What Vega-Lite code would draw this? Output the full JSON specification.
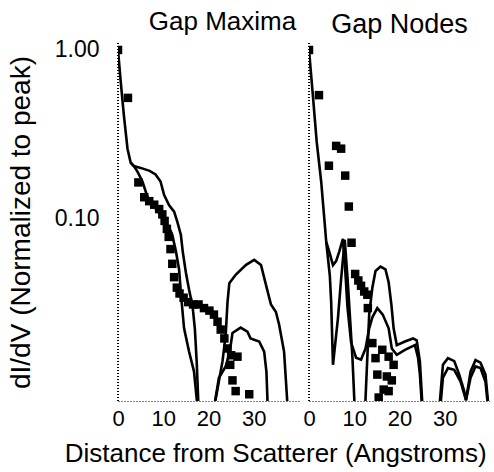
{
  "$schema": "https://vega.github.io/schema/vega-lite/v6.json",
  "padding": {"left": 7, "top": 8, "right": 0, "bottom": 3},
  "config": {"view": {"stroke": null}, "font": "Liberation Sans", "axis": {"labelColor": "black", "titleColor": "black"}},
  "title": {"text": "Distance from Scatterer (Angstroms)", "orient": "bottom", "anchor": "middle", "fontSize": 26, "fontWeight": "normal", "color": "black", "dx": 27, "offset": 12},
  "spacing": 3,
  "datasets": {
    "d": [
      {"p": "M", "s": "pts", "x": 0, "v": 1.0},
      {"p": "M", "s": "pts", "x": 2.2, "v": 0.52},
      {"p": "M", "s": "pts", "x": 4.5, "v": 0.164},
      {"p": "M", "s": "pts", "x": 5.8, "v": 0.134},
      {"p": "M", "s": "pts", "x": 6.9, "v": 0.127},
      {"p": "M", "s": "pts", "x": 8.0, "v": 0.121},
      {"p": "M", "s": "pts", "x": 9.1, "v": 0.114},
      {"p": "M", "s": "pts", "x": 9.8, "v": 0.106},
      {"p": "M", "s": "pts", "x": 10.3, "v": 0.097},
      {"p": "M", "s": "pts", "x": 10.8, "v": 0.087},
      {"p": "M", "s": "pts", "x": 11.2, "v": 0.078},
      {"p": "M", "s": "pts", "x": 11.6, "v": 0.066},
      {"p": "M", "s": "pts", "x": 12.0, "v": 0.054},
      {"p": "M", "s": "pts", "x": 12.4, "v": 0.045},
      {"p": "M", "s": "pts", "x": 13.0, "v": 0.039},
      {"p": "M", "s": "pts", "x": 13.6, "v": 0.036},
      {"p": "M", "s": "pts", "x": 14.5, "v": 0.034},
      {"p": "M", "s": "pts", "x": 15.5, "v": 0.032},
      {"p": "M", "s": "pts", "x": 16.6, "v": 0.031},
      {"p": "M", "s": "pts", "x": 17.8, "v": 0.031},
      {"p": "M", "s": "pts", "x": 19.0, "v": 0.0295},
      {"p": "M", "s": "pts", "x": 20.2, "v": 0.0285},
      {"p": "M", "s": "pts", "x": 21.2, "v": 0.027},
      {"p": "M", "s": "pts", "x": 22.0, "v": 0.0245},
      {"p": "M", "s": "pts", "x": 22.7, "v": 0.022},
      {"p": "M", "s": "pts", "x": 23.5, "v": 0.0195},
      {"p": "M", "s": "pts", "x": 24.2, "v": 0.017},
      {"p": "M", "s": "pts", "x": 25.0, "v": 0.0155},
      {"p": "M", "s": "pts", "x": 26.4, "v": 0.0152},
      {"p": "M", "s": "pts", "x": 24.8, "v": 0.0136},
      {"p": "M", "s": "pts", "x": 25.3, "v": 0.011},
      {"p": "M", "s": "pts", "x": 26.0, "v": 0.0095},
      {"p": "M", "s": "pts", "x": 29.0, "v": 0.0091},

      {"p": "M", "s": "m1", "x": 0, "v": 1.0},
      {"p": "M", "s": "m1", "x": 0.6, "v": 0.65},
      {"p": "M", "s": "m1", "x": 1.3, "v": 0.41},
      {"p": "M", "s": "m1", "x": 2.1, "v": 0.26},
      {"p": "M", "s": "m1", "x": 2.8, "v": 0.215},
      {"p": "M", "s": "m1", "x": 3.5, "v": 0.205},
      {"p": "M", "s": "m1", "x": 5.0, "v": 0.2},
      {"p": "M", "s": "m1", "x": 7.0, "v": 0.192},
      {"p": "M", "s": "m1", "x": 8.3, "v": 0.183},
      {"p": "M", "s": "m1", "x": 9.4, "v": 0.166},
      {"p": "M", "s": "m1", "x": 10.2, "v": 0.138},
      {"p": "M", "s": "m1", "x": 11.3, "v": 0.12},
      {"p": "M", "s": "m1", "x": 12.4, "v": 0.11},
      {"p": "M", "s": "m1", "x": 13.1, "v": 0.096},
      {"p": "M", "s": "m1", "x": 13.9, "v": 0.08},
      {"p": "M", "s": "m1", "x": 14.3, "v": 0.064},
      {"p": "M", "s": "m1", "x": 15.0, "v": 0.048},
      {"p": "M", "s": "m1", "x": 15.7, "v": 0.038},
      {"p": "M", "s": "m1", "x": 16.5, "v": 0.03},
      {"p": "M", "s": "m1", "x": 17.0, "v": 0.022},
      {"p": "M", "s": "m1", "x": 17.4, "v": 0.014},
      {"p": "M", "s": "m1", "x": 17.8, "v": 0.0075},

      {"p": "M", "s": "m2", "x": 2.8, "v": 0.215},
      {"p": "M", "s": "m2", "x": 3.5, "v": 0.205},
      {"p": "M", "s": "m2", "x": 4.3, "v": 0.19},
      {"p": "M", "s": "m2", "x": 5.4, "v": 0.166},
      {"p": "M", "s": "m2", "x": 6.5, "v": 0.135},
      {"p": "M", "s": "m2", "x": 8.3, "v": 0.115},
      {"p": "M", "s": "m2", "x": 10.0, "v": 0.1},
      {"p": "M", "s": "m2", "x": 11.2, "v": 0.09},
      {"p": "M", "s": "m2", "x": 12.0, "v": 0.08},
      {"p": "M", "s": "m2", "x": 12.8, "v": 0.064},
      {"p": "M", "s": "m2", "x": 13.5, "v": 0.05},
      {"p": "M", "s": "m2", "x": 13.9, "v": 0.036},
      {"p": "M", "s": "m2", "x": 14.6, "v": 0.0224},
      {"p": "M", "s": "m2", "x": 15.7, "v": 0.0163},
      {"p": "M", "s": "m2", "x": 16.8, "v": 0.0124},
      {"p": "M", "s": "m2", "x": 17.6, "v": 0.0075},

      {"p": "M", "s": "m3", "x": 21.2, "v": 0.0075},
      {"p": "M", "s": "m3", "x": 22.2, "v": 0.0105},
      {"p": "M", "s": "m3", "x": 23.1, "v": 0.0143},
      {"p": "M", "s": "m3", "x": 23.8, "v": 0.0205},
      {"p": "M", "s": "m3", "x": 24.2, "v": 0.032},
      {"p": "M", "s": "m3", "x": 24.6, "v": 0.0414},
      {"p": "M", "s": "m3", "x": 26.0, "v": 0.0465},
      {"p": "M", "s": "m3", "x": 28.3, "v": 0.0532},
      {"p": "M", "s": "m3", "x": 30.1, "v": 0.057},
      {"p": "M", "s": "m3", "x": 31.6, "v": 0.0532},
      {"p": "M", "s": "m3", "x": 32.7, "v": 0.0405},
      {"p": "M", "s": "m3", "x": 33.8, "v": 0.031},
      {"p": "M", "s": "m3", "x": 34.9, "v": 0.028},
      {"p": "M", "s": "m3", "x": 35.6, "v": 0.0236},
      {"p": "M", "s": "m3", "x": 36.7, "v": 0.0163},
      {"p": "M", "s": "m3", "x": 37.5, "v": 0.0075},

      {"p": "M", "s": "m4", "x": 21.2, "v": 0.0075},
      {"p": "M", "s": "m4", "x": 22.3, "v": 0.0114},
      {"p": "M", "s": "m4", "x": 23.8, "v": 0.0133},
      {"p": "M", "s": "m4", "x": 24.7, "v": 0.0163},
      {"p": "M", "s": "m4", "x": 25.3, "v": 0.021},
      {"p": "M", "s": "m4", "x": 27.1, "v": 0.0226},
      {"p": "M", "s": "m4", "x": 28.6, "v": 0.0214},
      {"p": "M", "s": "m4", "x": 29.3, "v": 0.0195},
      {"p": "M", "s": "m4", "x": 31.2, "v": 0.0187},
      {"p": "M", "s": "m4", "x": 32.3, "v": 0.0163},
      {"p": "M", "s": "m4", "x": 32.8, "v": 0.0124},
      {"p": "M", "s": "m4", "x": 33.1, "v": 0.0075},

      {"p": "N", "s": "pts", "x": 0, "v": 1.0},
      {"p": "N", "s": "pts", "x": 2.2, "v": 0.54},
      {"p": "N", "s": "pts", "x": 4.4, "v": 0.206},
      {"p": "N", "s": "pts", "x": 6.0, "v": 0.27},
      {"p": "N", "s": "pts", "x": 7.1, "v": 0.26},
      {"p": "N", "s": "pts", "x": 8.0, "v": 0.18},
      {"p": "N", "s": "pts", "x": 8.8, "v": 0.118},
      {"p": "N", "s": "pts", "x": 9.4, "v": 0.072},
      {"p": "N", "s": "pts", "x": 10.2, "v": 0.047},
      {"p": "N", "s": "pts", "x": 10.9, "v": 0.043},
      {"p": "N", "s": "pts", "x": 11.5, "v": 0.04},
      {"p": "N", "s": "pts", "x": 12.2, "v": 0.037},
      {"p": "N", "s": "pts", "x": 12.9, "v": 0.0354},
      {"p": "N", "s": "pts", "x": 13.0, "v": 0.0295},
      {"p": "N", "s": "pts", "x": 14.0, "v": 0.0183},
      {"p": "N", "s": "pts", "x": 14.7, "v": 0.0149},
      {"p": "N", "s": "pts", "x": 16.2, "v": 0.0167},
      {"p": "N", "s": "pts", "x": 17.6, "v": 0.0152},
      {"p": "N", "s": "pts", "x": 18.7, "v": 0.0136},
      {"p": "N", "s": "pts", "x": 15.1, "v": 0.0119},
      {"p": "N", "s": "pts", "x": 17.2, "v": 0.0116},
      {"p": "N", "s": "pts", "x": 18.3, "v": 0.011},
      {"p": "N", "s": "pts", "x": 16.5, "v": 0.0097},
      {"p": "N", "s": "pts", "x": 17.6, "v": 0.0095},
      {"p": "N", "s": "pts", "x": 15.4, "v": 0.0087},

      {"p": "N", "s": "n1", "x": 0, "v": 1.0},
      {"p": "N", "s": "n1", "x": 0.9, "v": 0.52},
      {"p": "N", "s": "n1", "x": 1.7, "v": 0.286},
      {"p": "N", "s": "n1", "x": 2.7, "v": 0.165},
      {"p": "N", "s": "n1", "x": 3.5, "v": 0.092},
      {"p": "N", "s": "n1", "x": 3.8, "v": 0.073},
      {"p": "N", "s": "n1", "x": 4.2, "v": 0.058},
      {"p": "N", "s": "n1", "x": 4.6, "v": 0.046},
      {"p": "N", "s": "n1", "x": 4.9, "v": 0.032},
      {"p": "N", "s": "n1", "x": 5.3, "v": 0.0136},
      {"p": "N", "s": "n1", "x": 6.4, "v": 0.0257},
      {"p": "N", "s": "n1", "x": 7.1, "v": 0.044},
      {"p": "N", "s": "n1", "x": 7.9, "v": 0.075},
      {"p": "N", "s": "n1", "x": 8.5, "v": 0.045},
      {"p": "N", "s": "n1", "x": 9.1, "v": 0.025},
      {"p": "N", "s": "n1", "x": 9.6, "v": 0.015},
      {"p": "N", "s": "n1", "x": 10.1, "v": 0.0075},

      {"p": "N", "s": "n2", "x": 3.8, "v": 0.073},
      {"p": "N", "s": "n2", "x": 4.6, "v": 0.062},
      {"p": "N", "s": "n2", "x": 5.3, "v": 0.053},
      {"p": "N", "s": "n2", "x": 6.0, "v": 0.056},
      {"p": "N", "s": "n2", "x": 6.7, "v": 0.064},
      {"p": "N", "s": "n2", "x": 7.5, "v": 0.076},
      {"p": "N", "s": "n2", "x": 8.0, "v": 0.05},
      {"p": "N", "s": "n2", "x": 8.5, "v": 0.03},
      {"p": "N", "s": "n2", "x": 9.3, "v": 0.0185},
      {"p": "N", "s": "n2", "x": 10.4, "v": 0.015},
      {"p": "N", "s": "n2", "x": 11.5, "v": 0.0146},
      {"p": "N", "s": "n2", "x": 12.5, "v": 0.017},
      {"p": "N", "s": "n2", "x": 13.3, "v": 0.0224},
      {"p": "N", "s": "n2", "x": 14.0, "v": 0.026},
      {"p": "N", "s": "n2", "x": 15.1, "v": 0.0295},
      {"p": "N", "s": "n2", "x": 16.3, "v": 0.027},
      {"p": "N", "s": "n2", "x": 17.6, "v": 0.0224},
      {"p": "N", "s": "n2", "x": 18.3, "v": 0.017},
      {"p": "N", "s": "n2", "x": 19.4, "v": 0.0156},
      {"p": "N", "s": "n2", "x": 21.2, "v": 0.0167},
      {"p": "N", "s": "n2", "x": 23.4, "v": 0.0178},
      {"p": "N", "s": "n2", "x": 24.1, "v": 0.015},
      {"p": "N", "s": "n2", "x": 24.5, "v": 0.012},
      {"p": "N", "s": "n2", "x": 25.0, "v": 0.0075},

      {"p": "N", "s": "n3", "x": 12.4, "v": 0.0075},
      {"p": "N", "s": "n3", "x": 13.3, "v": 0.027},
      {"p": "N", "s": "n3", "x": 14.0, "v": 0.039},
      {"p": "N", "s": "n3", "x": 14.7, "v": 0.049},
      {"p": "N", "s": "n3", "x": 15.8, "v": 0.052},
      {"p": "N", "s": "n3", "x": 16.9, "v": 0.05},
      {"p": "N", "s": "n3", "x": 17.6, "v": 0.042},
      {"p": "N", "s": "n3", "x": 18.2, "v": 0.031},
      {"p": "N", "s": "n3", "x": 18.7, "v": 0.0224},
      {"p": "N", "s": "n3", "x": 19.4, "v": 0.0178},
      {"p": "N", "s": "n3", "x": 21.2, "v": 0.0187},
      {"p": "N", "s": "n3", "x": 23.0, "v": 0.0195},
      {"p": "N", "s": "n3", "x": 23.8, "v": 0.019},
      {"p": "N", "s": "n3", "x": 24.5, "v": 0.0143},
      {"p": "N", "s": "n3", "x": 25.1, "v": 0.0075},

      {"p": "N", "s": "n4", "x": 28.8, "v": 0.0075},
      {"p": "N", "s": "n4", "x": 29.6, "v": 0.0136},
      {"p": "N", "s": "n4", "x": 30.7, "v": 0.0149},
      {"p": "N", "s": "n4", "x": 32.1, "v": 0.0143},
      {"p": "N", "s": "n4", "x": 33.2, "v": 0.0119},
      {"p": "N", "s": "n4", "x": 34.3, "v": 0.0095},
      {"p": "N", "s": "n4", "x": 34.7, "v": 0.0084},
      {"p": "N", "s": "n4", "x": 35.7, "v": 0.0124},
      {"p": "N", "s": "n4", "x": 36.8, "v": 0.0145},
      {"p": "N", "s": "n4", "x": 37.9, "v": 0.014},
      {"p": "N", "s": "n4", "x": 39.0, "v": 0.0119},
      {"p": "N", "s": "n4", "x": 39.7, "v": 0.0075},

      {"p": "N", "s": "n5", "x": 29.0, "v": 0.0075},
      {"p": "N", "s": "n5", "x": 29.6, "v": 0.0114},
      {"p": "N", "s": "n5", "x": 30.7, "v": 0.013},
      {"p": "N", "s": "n5", "x": 32.1, "v": 0.0127},
      {"p": "N", "s": "n5", "x": 33.5, "v": 0.0108},
      {"p": "N", "s": "n5", "x": 34.7, "v": 0.0084},
      {"p": "N", "s": "n5", "x": 35.7, "v": 0.0114},
      {"p": "N", "s": "n5", "x": 36.8, "v": 0.0133},
      {"p": "N", "s": "n5", "x": 37.9, "v": 0.013},
      {"p": "N", "s": "n5", "x": 39.0, "v": 0.0108},
      {"p": "N", "s": "n5", "x": 39.6, "v": 0.0075}
    ]
  },
  "data": {"name": "d"},
  "hconcat": [
    {
      "width": 181,
      "height": 358,
      "title": {"text": "Gap Maxima", "fontSize": 26, "fontWeight": "normal", "color": "black", "dx": 14, "offset": 4},
      "transform": [{"filter": "datum.p == 'M'"}],
      "encoding": {
        "x": {"field": "x", "type": "quantitative", "scale": {"domain": [0, 40], "nice": false, "zero": false},
              "axis": {"values": [0, 10, 20, 30], "title": null, "ticks": false, "grid": false, "domainDash": [1, 2], "domainColor": "black", "labelFontSize": 22, "labelPadding": 7, "labelFlush": false}},
        "y": {"field": "v", "type": "quantitative", "scale": {"type": "log", "domain": [0.0083, 1.1], "nice": false},
              "axis": {"values": [0.1, 1], "format": ".2f", "title": "dI/dV (Normalized to peak)", "titleFontSize": 28, "titleFontWeight": "normal", "titlePadding": 19, "labelFontSize": 23, "labelPadding": 19, "ticks": false, "grid": false, "domain": false}}
      },
      "layer": [
        {"mark": {"type": "rule", "strokeDash": [1, 2], "color": "black", "strokeWidth": 1}, "encoding": {"x": {"datum": 0}, "y": null}},
        {"transform": [{"filter": "datum.s != 'pts'"}], "mark": {"type": "line", "color": "black", "strokeWidth": 2.6, "clip": true}, "encoding": {"detail": {"field": "s"}}},
        {"transform": [{"filter": "datum.s == 'pts'"}], "mark": {"type": "square", "color": "black", "filled": true, "opacity": 1, "size": 72, "clip": true}}
      ]
    },
    {
      "width": 181,
      "height": 358,
      "title": {"text": "Gap Nodes", "fontSize": 27, "fontWeight": "normal", "color": "black", "offset": 4},
      "transform": [{"filter": "datum.p == 'N'"}],
      "encoding": {
        "x": {"field": "x", "type": "quantitative", "scale": {"domain": [0, 40], "nice": false, "zero": false},
              "axis": {"values": [0, 10, 20, 30], "title": null, "ticks": false, "grid": false, "domainDash": [1, 2], "domainColor": "black", "labelFontSize": 22, "labelPadding": 7, "labelFlush": false}},
        "y": {"field": "v", "type": "quantitative", "scale": {"type": "log", "domain": [0.0083, 1.1], "nice": false}, "axis": null}
      },
      "layer": [
        {"mark": {"type": "rule", "strokeDash": [1, 2], "color": "black", "strokeWidth": 1}, "encoding": {"x": {"datum": 0}, "y": null}},
        {"transform": [{"filter": "datum.s != 'pts'"}], "mark": {"type": "line", "color": "black", "strokeWidth": 2.6, "clip": true}, "encoding": {"detail": {"field": "s"}}},
        {"transform": [{"filter": "datum.s == 'pts'"}], "mark": {"type": "square", "color": "black", "filled": true, "opacity": 1, "size": 72, "clip": true}}
      ]
    }
  ]
}
